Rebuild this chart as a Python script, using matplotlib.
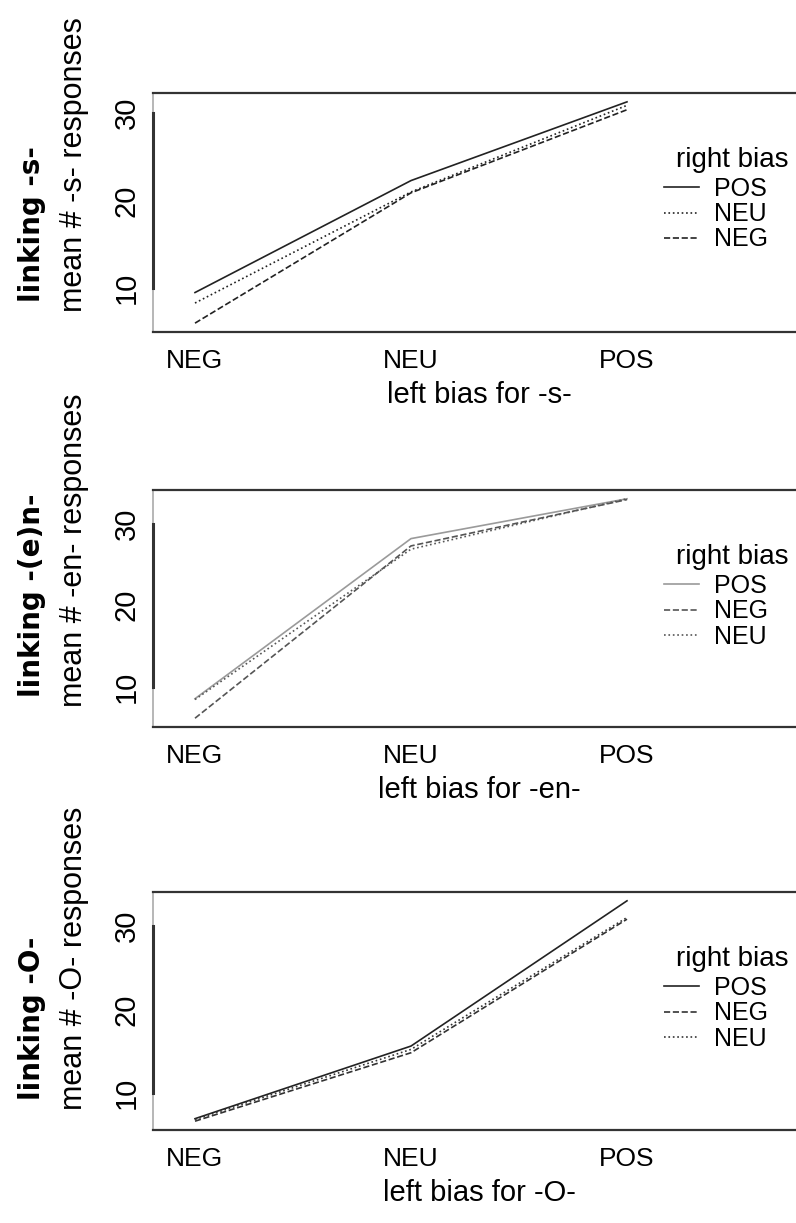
import matplotlib
matplotlib.use('agg')
import matplotlib.pyplot as plt
import numpy as np

# x-axis levels (left bias)
levels = ["NEG", "NEU", "POS"]

# panel 1: linking -s-
s_pos = [9.5, 22.3, 31.3]
s_neu = [8.3, 21.0, 30.9]
s_neg = [6.0, 20.9, 30.4]

# panel 2: linking -(e)n-
en_pos = [8.5, 28.2, 33.1]
en_neg = [6.1, 27.3, 33.0]
en_neu = [8.4, 26.9, 33.1]

# panel 3: linking -O-
o_pos = [6.9, 15.6, 33.0]
o_neg = [6.6, 14.8, 30.8]
o_neu = [6.8, 15.2, 31.0]

yticks = [10, 20, 30]

W, H = 796, 1223
fig = plt.figure(figsize=(W / 100, H / 100), dpi=100)

# panel boxes in pixels: (top, bottom)
boxes = [(93, 332), (490, 727), (892, 1130)]
left_px, right_px = 153, 806

panels = [
    dict(series=[("POS", s_pos, "-", "#222222"), ("NEU", s_neu, ":", "#222222"),
                 ("NEG", s_neg, "--", "#222222")],
         ylab="mean # -s- responses", link="linking -s-", xlab="left bias for -s-"),
    dict(series=[("POS", en_pos, "-", "#9a9a9a"), ("NEG", en_neg, "--", "#555555"),
                 ("NEU", en_neu, ":", "#555555")],
         ylab="mean # -en- responses", link="linking -(e)n-", xlab="left bias for -en-"),
    dict(series=[("POS", o_pos, "-", "#222222"), ("NEG", o_neg, "--", "#333333"),
                 ("NEU", o_neu, ":", "#333333")],
         ylab="mean # -O- responses", link="linking -O-", xlab="left bias for -O-"),
]

x = np.arange(1, len(levels) + 1)
px_per_unit = 216.0

for (top, bot), p in zip(boxes, panels):
    ax = fig.add_axes([left_px / W, 1 - bot / H, (right_px - left_px) / W, (bot - top) / H])
    for name, vals, ls, col in p["series"]:
        ax.plot(x, vals, linestyle=ls, color=col, lw=1.2, label=name)

    allv = np.concatenate([v for _, v, _, _ in p["series"]])
    lo, hi = allv.min(), allv.max()
    pad = 0.04 * (hi - lo)
    ax.set_ylim(lo - pad, hi + pad)
    ax.set_xlim(1 - (195 - left_px) / px_per_unit, 1 + (right_px - 195) / px_per_unit)

    ax.set_xticks(x)
    ax.set_xticklabels(levels, fontsize=19, family="Liberation Sans")
    ax.set_yticks(yticks)
    ax.set_yticklabels([str(t) for t in yticks], fontsize=21, family="Liberation Sans",
                       rotation=90, va="center")
    ax.tick_params(axis="x", length=0, pad=12)
    ax.tick_params(axis="y", length=0, pad=9)

    for side in ["top", "bottom", "right"]:
        ax.spines[side].set_color("#333333")
        ax.spines[side].set_linewidth(1.6)
    ax.spines["left"].set_bounds(10, 30)
    ax.spines["left"].set_color("#333333")
    ax.spines["left"].set_linewidth(2.2)
    ax.axvline(ax.get_xlim()[0], color="#aaaaaa", lw=1.2, clip_on=False, zorder=0)

    ax.set_xlabel(p["xlab"], fontsize=21, family="Liberation Sans", labelpad=6)

    # legend title drawn separately so it can sit right of the handles
    fig.text(789 / W, 1 - (top + 67) / H, "right bias", ha="right", va="center",
             fontsize=20, family="Liberation Sans")
    ax.legend(loc="upper left", bbox_to_anchor=(664 / W, 1 - (top + 84) / H),
              bbox_transform=fig.transFigure, frameon=False,
              handlelength=1.4, handletextpad=0.6, labelspacing=0.05, borderaxespad=0,
              borderpad=0, prop={"family": "Liberation Sans", "size": 18})

    fig.text(74 / W, 1 - (bot - 20) / H, p["ylab"], rotation=90, ha="center", va="bottom",
             fontsize=22, family="Liberation Sans")
    fig.text(32 / W, 1 - (bot - 30) / H, p["link"], rotation=90, ha="center", va="bottom",
             fontsize=20, family="DejaVu Sans", fontweight="bold")

fig.savefig("out.png", dpi=100)
